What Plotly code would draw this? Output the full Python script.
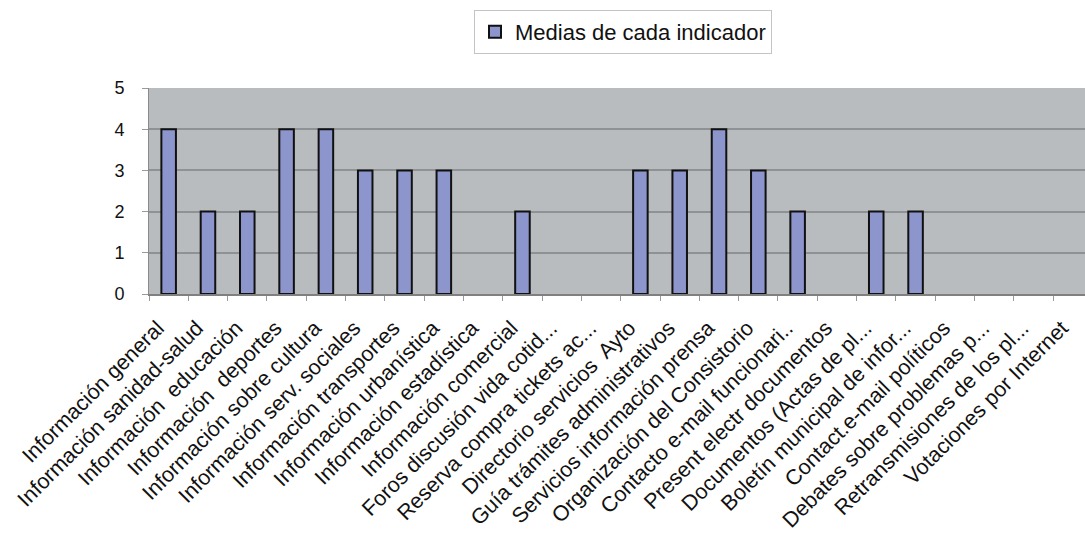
import plotly.graph_objects as go

# Indicadores evaluados y media obtenida en cada uno
indicadores = [
    "Información general",
    "Información sanidad-salud",
    "Información  educación",
    "Información  deportes",
    "Información sobre cultura",
    "Información serv. sociales",
    "Información transportes",
    "Información urbanística",
    "Información estadística",
    "Información comercial",
    "Foros discusión vida cotid...",
    "Reserva compra tickets ac...",
    "Directorio servicios  Ayto",
    "Guía trámites administrativos",
    "Servicios información prensa",
    "Organización del Consistorio",
    "Contacto e-mail funcionari..",
    "Present electr documentos",
    "Documentos (Actas de pl...",
    "Boletín municipal de infor...",
    "Contact.e-mail políticos",
    "Debates sobre problemas p...",
    "Retransmisiones de los pl...",
    "Votaciones por Internet",
]
medias = [4, 2, 2, 4, 4, 3, 3, 3, 0, 2, 0, 0, 3, 3, 4, 3, 2, 0, 2, 2, 0, 0, 0, 0]
y_ticks = [0, 1, 2, 3, 4, 5]

FONT = "Liberation Sans, Arial, sans-serif"

# bars with a zero mean get no outline, so nothing is drawn for them
outline = [2 if v > 0 else 0 for v in medias]

fig = go.Figure()
fig.add_trace(go.Bar(
    x=indicadores,
    y=medias,
    name="Medias de cada indicador",
    width=0.37,
    marker=dict(color="#8d96cc", line=dict(color="#111111", width=outline)),
    showlegend=True,
))

fig.update_layout(
    width=1085,
    height=538,
    margin=dict(l=149, r=0, t=88, b=244, autoexpand=False),
    paper_bgcolor="white",
    plot_bgcolor="#b9bcbf",
    font=dict(family=FONT, color="#111111"),
    showlegend=True,
    legend=dict(
        xref="container", yref="container",
        x=474 / 1085, y=1 - 10 / 538,
        xanchor="left", yanchor="top",
        bordercolor="#c4c4c4", borderwidth=1,
        bgcolor="white",
        font=dict(size=22, family=FONT, color="#111111"),
        itemwidth=30,
    ),
)

fig.update_xaxes(
    type="category",
    range=[-0.5, 23.31],
    tickangle=-45,
    tickson="boundaries",
    ticks="outside",
    ticklen=5,
    tickcolor="#9a9a9a",
    showline=True,
    linecolor="#808080",
    linewidth=2,
    showgrid=False,
    automargin=False,
    ticklabelstandoff=11,
    ticklabelshift=-11,
    tickfont=dict(size=21.5, family=FONT, color="#111111"),
)

fig.update_yaxes(
    range=[0, 5],
    tickvals=y_ticks,
    ticks="outside",
    ticklen=6,
    tickcolor="#9a9a9a",
    showline=True,
    linecolor="#8a8a8a",
    linewidth=1,
    showgrid=True,
    gridcolor="#8f9295",
    gridwidth=1.5,
    zeroline=False,
    automargin=False,
    ticklabelstandoff=14,
    tickfont=dict(size=18, family=FONT, color="#111111"),
)

fig.write_html("out.html")
